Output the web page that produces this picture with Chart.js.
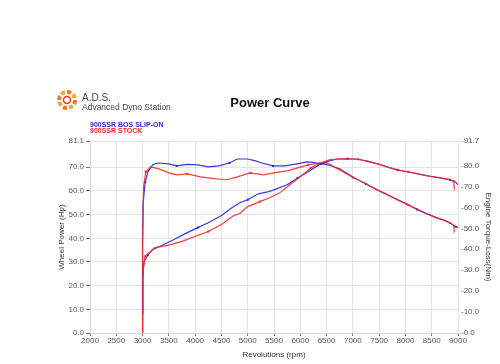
<html>
<head>
<script src="https://cdn.jsdelivr.net/npm/chart.js"></script>
<style>
  body { margin: 0; background: #fff; }
  #wrap { width: 500px; height: 364px; }
</style>
</head>
<body>
<div id="wrap"><canvas id="dyno" width="500" height="364"></canvas></div>
<script>
// rpm / value pairs
var bosPowerRpm = [3000, 3005, 3030, 3100, 3200, 3400, 3600, 3850, 4050, 4250, 4500, 4700, 4850, 5000, 5200, 5400, 5550, 5750, 5950, 6150, 6350, 6550, 6700, 6900, 7100, 7300, 7500, 7650, 7850, 8050, 8250, 8450, 8650, 8850, 8950, 9000];
var bosPower = [8, 25, 30.3, 33, 35.3, 37.4, 39.5, 42.4, 44.5, 46.6, 49.6, 52.9, 55, 56.3, 58.8, 59.7, 60.9, 62.6, 65.5, 68.1, 71, 72.7, 73.5, 73.6, 73.4, 72.5, 71.3, 70.2, 68.9, 68, 67.2, 66.3, 65.5, 64.7, 63.9, 62.6];

var stockPowerRpm = [3000, 3005, 3020, 3050, 3230, 3480, 3750, 4000, 4250, 4500, 4720, 4850, 5000, 5230, 5420, 5610, 5800, 6000, 6200, 6380, 6550, 6700, 6900, 7100, 7300, 7500, 7650, 7850, 8050, 8250, 8450, 8650, 8850, 8920, 8930];
var stockPower = [0, 22, 28, 32.4, 36.1, 37, 38.7, 40.8, 42.9, 45.8, 49.4, 50.5, 53.4, 55.5, 57.1, 59.2, 62.6, 66, 69.7, 71.8, 73.1, 73.5, 73.6, 73.4, 72.4, 71.2, 70.1, 68.8, 68.1, 67.1, 66.2, 65.6, 64.8, 64, 60.5];

var bosTorqueRpm = [3000, 3000, 3010, 3050, 3100, 3200, 3300, 3500, 3650, 3850, 4050, 4250, 4450, 4650, 4800, 5000, 5150, 5270, 5480, 5700, 5940, 6130, 6240, 6380, 6500, 6620, 6750, 7000, 7250, 7450, 7650, 7850, 8050, 8220, 8400, 8600, 8750, 8850, 8950, 9000];
var bosTorque = [10, 45, 62, 72, 77, 80.5, 81.2, 80.8, 79.8, 80.5, 80.3, 79.3, 79.8, 81.2, 83.1, 83.1, 82.2, 81.2, 79.8, 79.8, 80.8, 81.7, 81.5, 80.8, 80.5, 79.5, 78.4, 74.5, 71.2, 68.4, 66, 63.7, 61.3, 59, 57, 55, 53.8, 52.7, 50.8, 50.4];

var stockTorqueRpm = [3000, 3000, 3020, 3060, 3150, 3300, 3500, 3650, 3850, 4100, 4400, 4600, 4800, 5050, 5300, 5500, 5750, 5950, 6150, 6350, 6500, 6650, 6750, 7000, 7250, 7450, 7650, 7850, 8050, 8220, 8400, 8600, 8750, 8850, 8920, 8930];
var stockTorque = [0, 40, 70, 77, 79.3, 78.5, 76.5, 75.5, 76, 74.6, 73.6, 73.2, 74.6, 76.5, 75.5, 76.5, 77.4, 78.9, 80.3, 81.2, 81.4, 79.3, 77.9, 74.3, 71.3, 68.6, 66.2, 63.5, 61.2, 59.2, 57.1, 55, 53.6, 52.5, 51.5, 48];

var powerTicks = [0, 10, 20, 30, 40, 50, 60, 70, 81.1];
var torqueTicks = [0, 10, 20, 30, 40, 50, 60, 70, 80, 91.7];

var BLUE = 'rgba(35,35,225,0.9)';
var RED = 'rgba(250,40,40,0.9)';
var FONT = 'Liberation Sans, Arial, sans-serif';

function pairs(xs, ys) {
    return xs.map(function (x, i) { return { x: x, y: ys[i] }; });
}

function series(label, xs, ys, color, axis) {
    return {
        label: label,
        data: pairs(xs, ys),
        yAxisID: axis,
        borderColor: color,
        backgroundColor: color,
        borderWidth: 1.2,
        tension: 0,
        pointStyle: 'rect',
        pointRadius: function (c) { return c.dataIndex % 5 === 3 ? 1.5 : 0; },
        pointBorderWidth: 0,
        fill: false
    };
}

// logo, title and the little two-line legend above the plot
var header = {
    id: 'header',
    afterDraw: function (chart) {
        var ctx = chart.ctx;
        ctx.save();
        // logo ring
        var cx = 67, cy = 100;
        for (var k = 0; k < 8; k++) {
            var a = k * Math.PI / 4;
            ctx.beginPath();
            ctx.arc(cx, cy, 8, a, a + Math.PI / 6);
            ctx.strokeStyle = k % 2 ? '#f7a233' : '#ee7a22';
            ctx.lineWidth = 4;
            ctx.stroke();
        }
        ctx.beginPath();
        ctx.arc(cx, cy, 3.5, 0, Math.PI * 2);
        ctx.strokeStyle = '#e03a20';
        ctx.lineWidth = 1.5;
        ctx.stroke();

        ctx.fillStyle = '#444';
        ctx.textBaseline = 'alphabetic';
        ctx.textAlign = 'left';
        ctx.font = '10px ' + FONT;
        ctx.fillText('A.D.S.', 82, 101);
        ctx.font = '8.5px ' + FONT;
        ctx.fillText('Advanced Dyno Station', 82, 110);

        ctx.fillStyle = '#111';
        ctx.font = 'bold 13px ' + FONT;
        ctx.textAlign = 'center';
        ctx.fillText('Power Curve', 270, 107);

        ctx.textAlign = 'left';
        ctx.font = 'bold 7px ' + FONT;
        ctx.fillStyle = '#2a2ad8';
        ctx.fillText('900SSR BOS SLIP-ON', 90, 127);
        ctx.fillStyle = '#f02a2a';
        ctx.fillText('900SSR STOCK', 90, 133);
        ctx.restore();
    }
};

var ctx = document.getElementById('dyno').getContext('2d');
window.dynoChart = new Chart(ctx, {
    type: 'line',
    data: {
        datasets: [
            series('900SSR STOCK power', stockPowerRpm, stockPower, RED, 'yPower'),
            series('900SSR BOS SLIP-ON power', bosPowerRpm, bosPower, BLUE, 'yPower'),
            series('900SSR STOCK torque', stockTorqueRpm, stockTorque, RED, 'yTorque'),
            series('900SSR BOS SLIP-ON torque', bosTorqueRpm, bosTorque, BLUE, 'yTorque')
        ]
    },
    options: {
        responsive: false,
        animation: false,
        layout: { padding: { top: 141, left: 0, right: 0, bottom: 0 } },
        plugins: {
            legend: { display: false },
            tooltip: { enabled: false }
        },
        scales: {
            x: {
                type: 'linear',
                min: 2000,
                max: 9000,
                ticks: { stepSize: 500, color: '#555', font: { family: FONT, size: 8 }, padding: 0, maxRotation: 0,
                         callback: function (v) { return String(v); } },
                grid: { color: '#e4e4e4', tickColor: '#777', tickLength: 3 },
                border: { color: '#d8d8d8' },
                title: { display: true, text: 'Revolutions (rpm)', color: '#333', font: { family: FONT, size: 8 }, padding: { top: 0, bottom: 4 } },
                afterFit: function (s) { s.height = 31; }
            },
            yPower: {
                position: 'left',
                min: 0,
                max: 81.1,
                afterBuildTicks: function (s) { s.ticks = powerTicks.map(function (v) { return { value: v }; }); },
                ticks: { color: '#555', font: { family: FONT, size: 8 }, padding: 2, callback: function (v) { return v.toFixed(1); } },
                grid: { color: '#e4e4e4', tickColor: '#777', tickLength: 4 },
                border: { color: '#d8d8d8' },
                title: { display: true, text: 'Wheel Power (Hp)', color: '#333', font: { family: FONT, size: 8 }, padding: { top: 57, bottom: 0 } },
                afterFit: function (s) { s.width = 90; }
            },
            yTorque: {
                position: 'right',
                min: 0,
                max: 91.7,
                afterBuildTicks: function (s) { s.ticks = torqueTicks.map(function (v) { return { value: v }; }); },
                ticks: { color: '#555', font: { family: FONT, size: 8 }, padding: 3, callback: function (v) { return '-' + v.toFixed(1); } },
                grid: { drawOnChartArea: false, drawTicks: false },
                border: { display: false },
                title: { display: true, text: 'Engine Torque-Loss(Nm)', color: '#333', font: { family: FONT, size: 8 }, padding: { top: 7, bottom: 0 } },
                afterFit: function (s) { s.width = 42; }
            }
        }
    },
    plugins: [header]
});
</script>
</body>
</html>
